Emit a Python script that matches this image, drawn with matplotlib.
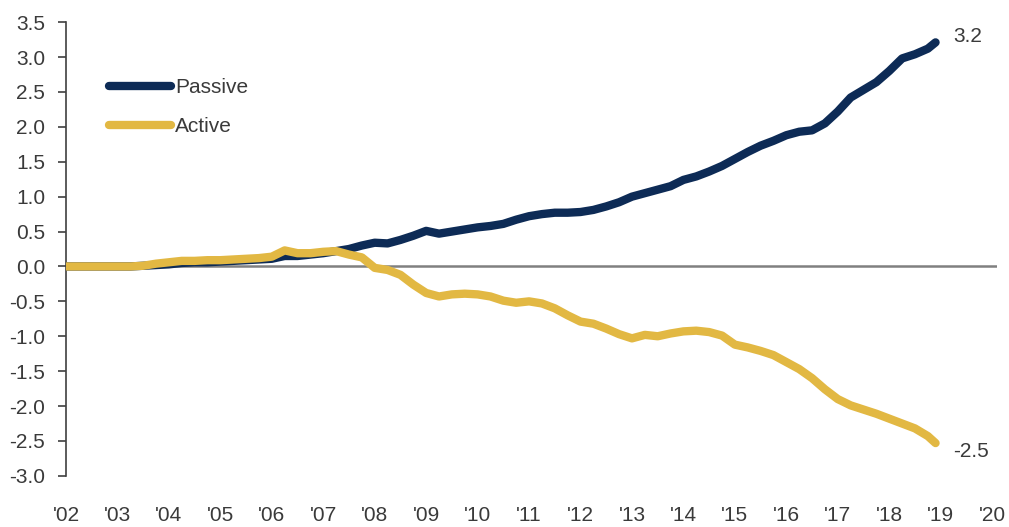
import matplotlib
matplotlib.use("Agg")
import matplotlib.pyplot as plt
from matplotlib import font_manager

names = {f.name for f in font_manager.fontManager.ttflist}
fam = [n for n in ["Liberation Sans Narrow", "Liberation Sans", "DejaVu Sans"] if n in names]
plt.rcParams['font.family'] = fam

years = [2002.00, 2002.25, 2002.50, 2002.75, 2003.00, 2003.25, 2003.50, 2003.75,
         2004.00, 2004.25, 2004.50, 2004.75, 2005.00, 2005.25, 2005.50, 2005.75,
         2006.00, 2006.25, 2006.50, 2006.75, 2007.00, 2007.25, 2007.50, 2007.75,
         2008.00, 2008.25, 2008.50, 2008.75, 2009.00, 2009.25, 2009.50, 2009.75,
         2010.00, 2010.25, 2010.50, 2010.75, 2011.00, 2011.25, 2011.50, 2011.75,
         2012.00, 2012.25, 2012.50, 2012.75, 2013.00, 2013.25, 2013.50, 2013.75,
         2014.00, 2014.25, 2014.50, 2014.75, 2015.00, 2015.25, 2015.50, 2015.75,
         2016.00, 2016.25, 2016.50, 2016.75, 2017.00, 2017.25, 2017.50, 2017.75,
         2018.00, 2018.25, 2018.50, 2018.75, 2018.90]

passive = [0.00, 0.00, 0.00, 0.00, 0.00, 0.00, 0.01, 0.02,
           0.03, 0.05, 0.06, 0.06, 0.07, 0.08, 0.09, 0.10,
           0.11, 0.15, 0.15, 0.17, 0.19, 0.22, 0.25, 0.30,
           0.34, 0.33, 0.38, 0.44, 0.51, 0.47, 0.50, 0.53,
           0.56, 0.58, 0.61, 0.67, 0.72, 0.75, 0.77, 0.77,
           0.78, 0.81, 0.86, 0.92, 1.00, 1.05, 1.10, 1.15,
           1.24, 1.29, 1.36, 1.44, 1.54, 1.64, 1.73, 1.80,
           1.88, 1.93, 1.95, 2.05, 2.22, 2.42, 2.53, 2.64,
           2.80, 2.98, 3.04, 3.12, 3.21]

active = [0.00, 0.00, 0.00, 0.00, 0.00, 0.00, 0.01, 0.04,
          0.06, 0.08, 0.08, 0.09, 0.09, 0.10, 0.11, 0.12,
          0.14, 0.23, 0.19, 0.19, 0.21, 0.22, 0.17, 0.13,
          -0.02, -0.05, -0.12, -0.26, -0.38, -0.43, -0.40, -0.39,
          -0.40, -0.43, -0.49, -0.52, -0.50, -0.53, -0.60, -0.70,
          -0.79, -0.82, -0.89, -0.97, -1.03, -0.98, -1.00, -0.96,
          -0.93, -0.92, -0.94, -0.99, -1.12, -1.16, -1.21, -1.27,
          -1.37, -1.47, -1.60, -1.76, -1.90, -1.99, -2.05, -2.11,
          -2.18, -2.25, -2.32, -2.43, -2.53]

xtick_years = list(range(2002, 2021))
xtick_labels = ["'" + str(y)[2:] for y in xtick_years]
ytick_vals = [3.5, 3.0, 2.5, 2.0, 1.5, 1.0, 0.5, 0.0, -0.5, -1.0, -1.5, -2.0, -2.5, -3.0]
end_labels = ["3.2", "-2.5"]

NAVY = "#0d2b56"
GOLD = "#e2b843"
TXT = "#3a3a3a"

fig = plt.figure(figsize=(10.09, 5.27), dpi=100)
ax = fig.add_axes([0.0654, 0.097, 0.923, 0.861])

ax.axhline(0, color="#808080", lw=1.8, zorder=1)
ax.plot(years, passive, color=NAVY, lw=6, solid_capstyle="round", solid_joinstyle="round", label="Passive", zorder=3)
ax.plot(years, active, color=GOLD, lw=6, solid_capstyle="round", solid_joinstyle="round", label="Active", zorder=4)

ax.set_xlim(2002, 2020.1)
ax.set_ylim(-3.0, 3.5)
ax.set_yticks(ytick_vals)
ax.set_yticklabels([f"{v:.1f}" for v in ytick_vals])
ax.set_xticks(xtick_years)
ax.set_xticklabels(xtick_labels)

for s in ["top", "right", "bottom"]:
    ax.spines[s].set_visible(False)
ax.spines["left"].set_color("#404040")
ax.spines["left"].set_linewidth(1.2)
ax.tick_params(axis="y", direction="out", length=6, width=1.2, color="#404040",
               labelsize=15, labelcolor=TXT, pad=9)
ax.tick_params(axis="x", length=0, labelsize=15, labelcolor=TXT, pad=22)
for lbl in ax.get_xticklabels():
    lbl.set_x(lbl.get_position()[0])

ax.annotate(end_labels[0], xy=(years[-1], passive[-1]), xytext=(13, 4), textcoords="offset points",
            fontsize=15, color=TXT, va="center", ha="left")
ax.annotate(end_labels[1], xy=(years[-1], active[-1]), xytext=(13, -6), textcoords="offset points",
            fontsize=15, color=TXT, va="center", ha="left")

leg = ax.legend(loc="upper left", bbox_to_anchor=(0.037, 0.895), frameon=False, fontsize=15,
                handlelength=3.0, handletextpad=0.2, labelspacing=0.95, borderaxespad=0)
for t in leg.get_texts():
    t.set_color(TXT)

fig.savefig("out.png", dpi=100)
